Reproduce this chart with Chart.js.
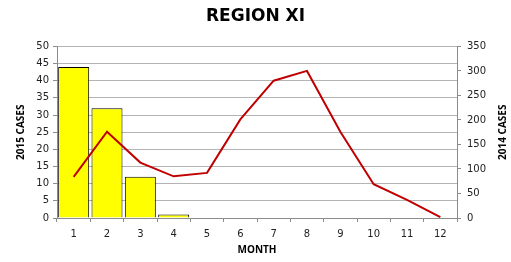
<!DOCTYPE html>
<html>
<head>
<meta charset="utf-8">
<script src="https://cdn.jsdelivr.net/npm/chart.js@4/dist/chart.umd.min.js"></script>
<style>
  html, body { margin: 0; padding: 0; background: #fff; }
  #wrap { width: 511px; height: 262px; }
</style>
</head>
<body>
<div id="wrap"><canvas id="regionChart"></canvas></div>
<script>
// --- dados ---
const months = ['1', '2', '3', '4', '5', '6', '7', '8', '9', '10', '11', '12'];
const cases2015 = [44, 32, 12, 1, null, null, null, null, null, null, null, null];
const cases2014 = [84, 176, 113, 85, 92, 201, 280, 300, 176, 69, 37, 2];
const rightAxisTitle = '2014 CASES';

const gridGray = '#b4b4b4';
const axisGray = '#8c8c8c';
const tickFont = { family: 'DejaVu Sans', size: 10 };
const titleFont = { family: 'Open Sans', size: 10, weight: 'bold' };

// título do eixo direito lido de baixo para cima (como no Excel)
const rightTitlePlugin = {
  id: 'rightTitle',
  afterDraw(chart) {
    const ctx = chart.ctx;
    const area = chart.chartArea;
    ctx.save();
    ctx.translate(503, (area.top + area.bottom) / 2);
    ctx.rotate(-Math.PI / 2);
    ctx.font = 'bold 10px "Open Sans"';
    ctx.fillStyle = '#000';
    ctx.textAlign = 'center';
    ctx.textBaseline = 'middle';
    ctx.fillText(rightAxisTitle, 0, 0);
    ctx.restore();
  }
};

new Chart(document.getElementById('regionChart'), {
  data: {
    labels: months,
    datasets: [
      {
        type: 'line',
        label: '2014 CASES',
        data: cases2014,
        yAxisID: 'y1',
        borderColor: '#c00000',
        borderWidth: 2,
        pointRadius: 0,
        tension: 0,
        order: 1
      },
      {
        type: 'bar',
        label: '2015 CASES',
        data: cases2015,
        yAxisID: 'y',
        backgroundColor: '#ffff00',
        borderColor: '#000',
        borderWidth: 1,
        barPercentage: 0.93,
        categoryPercentage: 1,
        order: 2
      }
    ]
  },
  options: {
    responsive: true,
    maintainAspectRatio: false,
    animation: false,
    layout: { padding: { left: 0, right: 0, top: 0, bottom: 0 } },
    plugins: {
      legend: { display: false },
      tooltip: { enabled: false },
      title: {
        display: true,
        text: 'REGION XI',
        color: '#000',
        font: { family: 'DejaVu Sans', size: 17, weight: 'bold' },
        padding: { top: 6, bottom: 20 }
      }
    },
    scales: {
      x: {
        offset: true,
        grid: { display: true, offset: true, drawOnChartArea: false, drawTicks: true, tickLength: 4, color: axisGray },
        border: { color: axisGray },
        ticks: { color: '#222', font: tickFont, padding: 6, maxRotation: 0 },
        title: { display: true, text: 'MONTH', color: '#000', font: titleFont, padding: { top: 3, bottom: 6 } },
        afterFit: s => { s.height = 44; }
      },
      y: {
        position: 'left',
        min: 0,
        max: 50,
        ticks: { stepSize: 5, color: '#222', font: tickFont, padding: 4 },
        grid: { color: gridGray, tickLength: 4, tickColor: axisGray },
        border: { color: axisGray },
        title: { display: true, text: '2015 CASES', color: '#000', font: titleFont, padding: { top: 15, bottom: 0 } },
        afterFit: s => { s.width = 57; }
      },
      y1: {
        position: 'right',
        min: 0,
        max: 350,
        ticks: { stepSize: 50, color: '#222', font: tickFont, padding: 6 },
        grid: { drawOnChartArea: false, tickLength: 4, color: axisGray },
        border: { color: axisGray },
        afterFit: s => { s.width = 54; }
      }
    }
  },
  plugins: [rightTitlePlugin]
});
</script>
</body>
</html>
